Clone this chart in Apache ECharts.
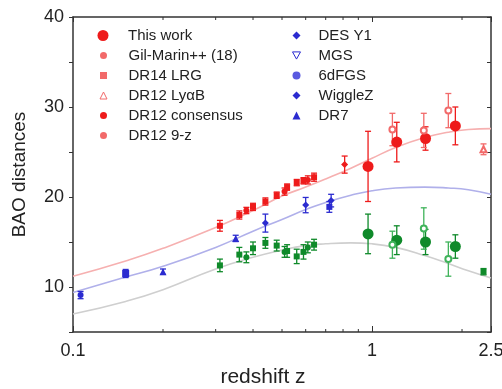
<!DOCTYPE html>
<html>
<head>
<meta charset="utf-8">
<script src="https://cdn.jsdelivr.net/npm/echarts@6/dist/echarts.min.js"></script>
<style>html,body{margin:0;padding:0;background:#fff}#c{width:502px;height:389px}</style>
</head>
<body>
<div id="c"></div>
<script>
// ---- data ----
const curveZ     = [0.1, 0.15, 0.2, 0.3, 0.4, 0.5, 0.6, 0.7, 0.85, 1.0, 1.2, 1.5, 1.8, 2.1, 2.5];
const curveDM    = [11.2, 12.9, 14.3, 16.6, 18.5, 20.1, 21.1, 22.0, 23.2, 24.3, 25.5, 26.6, 27.2, 27.5, 27.6];
const curveDV    = [9.4, 11.1, 12.3, 14.4, 16.2, 17.5, 18.6, 19.4, 20.2, 20.7, 21.0, 21.1, 21.0, 20.8, 20.3];
const curveDH    = [7.0, 8.4, 9.7, 12.0, 13.3, 14.1, 14.6, 14.8, 14.9, 14.8, 14.4, 13.5, 12.6, 11.8, 11.0];

const thisWorkZ      = [0.97, 1.21, 1.51, 1.90];
const thisWorkDM     = [23.4, 26.1, 26.5, 27.9];
const thisWorkDMErr  = [3.9, 2.2, 1.3, 2.1];
const thisWorkDH     = [15.9, 15.2, 15.0, 14.5];
const thisWorkDHErr  = [2.2, 1.6, 1.4, 1.3];

const gilMarinZ      = [1.17, 1.49, 1.80];
const gilMarinDM     = [27.5, 27.4, 29.6];
const gilMarinDMErr  = [1.8, 1.9, 1.9];
const gilMarinDH     = [14.7, 16.5, 13.1];
const gilMarinDHErr  = [1.5, 2.3, 1.9];

const lyaZ     = [2.36];
const lyaDM    = [25.3];
const lyaDMErr = [0.6];
const lyaDH    = [11.7];
const lyaDHErr = [0.35];

const consZ     = [0.38, 0.51, 0.61];
const consDM    = [18.5, 20.6, 21.9];
const consDMErr = [0.35, 0.4, 0.45];
const consDH    = [13.3, 13.9, 14.4];
const consDHErr = [0.6, 0.6, 0.6];

const nineZ     = [0.31, 0.36, 0.40, 0.44, 0.48, 0.52, 0.56, 0.59, 0.64];
const nineDM    = [16.8, 18.0, 18.9, 19.5, 20.2, 21.1, 21.6, 21.8, 22.2];
const nineDMErr = [0.6, 0.45, 0.4, 0.4, 0.35, 0.35, 0.35, 0.35, 0.45];
const nineDH    = [12.4, 13.6, 14.3, 14.9, 14.6, 14.0, 13.4, 13.9, 14.7];
const nineDHErr = [0.7, 0.8, 0.7, 0.6, 0.6, 0.7, 0.8, 0.8, 0.6];

const desZ = [0.81], desDM = [23.6], desDMErr = [0.95];
const lrgZ = [0.72], lrgDV = [18.9], lrgDVErr = [0.6];
const wigZ = [0.44, 0.60, 0.73], wigDV = [17.1, 19.1, 19.6], wigDVErr = [1.0, 0.85, 0.7];
const dr7Z = [0.2, 0.35], dr7DV = [11.7, 15.4], dr7DVErr = [0.3, 0.35];
const mgsZ = [0.15], mgsDV = [11.5], mgsDVErr = [0.45];
const sixZ = [0.106], sixDV = [9.1], sixDVErr = [0.4];

const xLabelValues = [0.1, 1, 2.5];
const xMinorTicks  = [0.2, 0.3, 0.4, 0.5, 0.6, 0.7, 0.8, 0.9, 2];
const yTickLabels  = [10, 20, 30, 40];

// ---- styling ----
const RED = '#ee1b1b', LRED = '#f26a6a', GREEN = '#0f8a2a', LGREEN = '#3fb35a', BLUE = '#2b2bd0';

function pts(z, v, e) { return z.map((zz, i) => [zz, v[i], v[i] - e[i], v[i] + e[i]]); }
function line(z, v) { return z.map((zz, i) => [zz, v[i]]); }

function errSeries(name, data, color) {
  return {
    type: 'custom', name: name, data: data, z: 3, silent: true,
    encode: { x: 0, y: 1 },
    renderItem: function (params, api) {
      const x = api.value(0);
      const lo = api.coord([x, api.value(2)]);
      const hi = api.coord([x, api.value(3)]);
      const w = 3;
      const st = { stroke: color, lineWidth: 1.3 };
      return { type: 'group', children: [
        { type: 'line', shape: { x1: lo[0], y1: lo[1], x2: hi[0], y2: hi[1] }, style: st },
        { type: 'line', shape: { x1: lo[0] - w, y1: lo[1], x2: lo[0] + w, y2: lo[1] }, style: st },
        { type: 'line', shape: { x1: hi[0] - w, y1: hi[1], x2: hi[0] + w, y2: hi[1] }, style: st }
      ]};
    }
  };
}
function scat(name, data, symbol, size, color) {
  return { type: 'scatter', name: name, data: data, symbol: symbol, symbolSize: size, z: 4,
    encode: { x: 0, y: 1 }, itemStyle: { color: color, opacity: 1 } };
}
function both(name, data, symbol, size, color) {
  return [errSeries(name, data, color), scat(name, data, symbol, size, color)];
}
function curve(data, color) {
  return { type: 'line', data: data, smooth: true, showSymbol: false, symbol: 'none', z: 1,
    lineStyle: { color: color, width: 1.6 }, silent: true };
}
// minor ticks of the log x axis (drawn through the axis scale)
const minorTickSeries = {
  type: 'custom', silent: true, z: 5,
  data: xMinorTicks.map(v => [v, 5]), encode: { x: 0, y: 1 },
  renderItem: function (params, api) {
    const x = api.coord([api.value(0), 5])[0];
    const cs = params.coordSys;
    const st = { stroke: '#333', lineWidth: 1 };
    const b = cs.y + cs.height;
    return { type: 'group', children: [
      { type: 'line', shape: { x1: x, y1: b, x2: x, y2: b - 3 }, style: st },
      { type: 'line', shape: { x1: x, y1: cs.y, x2: x, y2: cs.y + 3 }, style: st }
    ]};
  }
};

const series = [].concat(
  curve(line(curveZ, curveDM), '#f6b0b0'),
  curve(line(curveZ, curveDV), '#b0b0ea'),
  curve(line(curveZ, curveDH), '#cfcfcf'),
  both('This work', pts(thisWorkZ, thisWorkDM, thisWorkDMErr), 'circle', 11, RED),
  both('This work', pts(thisWorkZ, thisWorkDH, thisWorkDHErr), 'circle', 11, GREEN),
  both('Gil-Marin++ (18)', pts(gilMarinZ, gilMarinDM, gilMarinDMErr), 'emptyCircle', 6, LRED),
  both('Gil-Marin++ (18)', pts(gilMarinZ, gilMarinDH, gilMarinDHErr), 'emptyCircle', 6, LGREEN),
  both('DR12 LyαB', pts(lyaZ, lyaDM, lyaDMErr), 'emptyTriangle', 6, LRED),
  both('DR12 LyαB', pts(lyaZ, lyaDH, lyaDHErr), 'rect', 6, GREEN),
  both('DR12 consensus', pts(consZ, consDM, consDMErr), 'circle', 6, RED),
  both('DR12 consensus', pts(consZ, consDH, consDHErr), 'circle', 6, GREEN),
  both('DR12 9-z', pts(nineZ, nineDM, nineDMErr), 'rect', 6, RED),
  both('DR12 9-z', pts(nineZ, nineDH, nineDHErr), 'rect', 6, GREEN),
  both('DES Y1', pts(desZ, desDM, desDMErr), 'diamond', 7, RED),
  both('DR14 LRG', pts(lrgZ, lrgDV, lrgDVErr), 'rect', 6, BLUE),
  both('WiggleZ', pts(wigZ, wigDV, wigDVErr), 'diamond', 7, BLUE),
  both('DR7', pts(dr7Z, dr7DV, dr7DVErr), 'triangle', 7, BLUE),
  both('MGS', pts(mgsZ, mgsDV, mgsDVErr), 'rect', 7, BLUE),
  both('6dFGS', pts(sixZ, sixDV, sixDVErr), 'circle', 6, BLUE),
  [minorTickSeries]
);

const FONT = 'Liberation Sans, Arial, sans-serif';
function legText(pad) { return { fontFamily: FONT, fontSize: 15, color: '#222', lineHeight: 15, padding: [0, 0, 0, pad] }; }
const downTri = 'path://M0,0 L10,0 L5,9 Z';

const option = {
  animation: false,
  backgroundColor: '#fff',
  grid: { left: 73, right: 11, top: 17, bottom: 57, outerBoundsMode: 'none', containLabel: false },
  legend: [
    { left: 92.5, top: 23, orient: 'vertical', itemWidth: 11, itemHeight: 11, itemGap: 5, textStyle: legText(14.5), selectedMode: false,
      data: [{ name: 'This work', icon: 'circle', itemStyle: { color: RED } }] },
    { left: 94.5, top: 43, orient: 'vertical', itemWidth: 7, itemHeight: 7, itemGap: 5, textStyle: legText(16.5), selectedMode: false,
      data: [
        { name: 'Gil-Marin++ (18)', icon: 'circle', itemStyle: { color: LRED } },
        { name: 'DR14 LRG', icon: 'rect', itemStyle: { color: LRED } },
        { name: 'DR12 LyαB', icon: 'triangle', itemStyle: { color: '#fff', borderColor: LRED, borderWidth: 1 } },
        { name: 'DR12 consensus', icon: 'circle', itemStyle: { color: RED } },
        { name: 'DR12 9-z', icon: 'circle', itemStyle: { color: LRED } }
      ] },
    { left: 287, top: 23, orient: 'vertical', itemWidth: 8, itemHeight: 8, itemGap: 5, textStyle: legText(13), selectedMode: false,
      data: [
        { name: 'DES Y1', icon: 'diamond', itemStyle: { color: BLUE } },
        { name: 'MGS', icon: downTri, itemStyle: { color: '#fff', borderColor: BLUE, borderWidth: 1 } },
        { name: '6dFGS', icon: 'circle', itemStyle: { color: '#5a5ae0' } },
        { name: 'WiggleZ', icon: 'diamond', itemStyle: { color: BLUE } },
        { name: 'DR7', icon: 'triangle', itemStyle: { color: BLUE } }
      ] }
  ],
  xAxis: [
    { type: 'log', logBase: 10, min: 0.1, max: 2.5, position: 'bottom',
      name: 'redshift z', nameLocation: 'middle', nameGap: 35, nameMoveOverlap: false,
      nameTextStyle: { fontFamily: FONT, fontSize: 21, color: '#222', padding: [0, 38, 0, 0] },
      axisLine: { show: true, lineStyle: { color: '#333', width: 1.5 } },
      axisTick: { show: true, inside: true, length: 6, lineStyle: { color: '#333' } },
      axisLabel: { customValues: xLabelValues, fontFamily: FONT, fontSize: 18, color: '#222', margin: 10,
        formatter: v => String(Math.round(v * 10) / 10) },
      splitLine: { show: false } },
    { type: 'log', logBase: 10, min: 0.1, max: 2.5, position: 'top',
      axisLine: { show: true, lineStyle: { color: '#333', width: 1.5 } },
      axisTick: { show: true, inside: true, length: 5, lineStyle: { color: '#333' } },
      axisLabel: { show: false }, splitLine: { show: false } }
  ],
  yAxis: [
    { type: 'value', min: 5, max: 40, interval: 5, position: 'left',
      name: 'BAO distances', nameLocation: 'middle', nameGap: 44, nameMoveOverlap: false,
      nameTextStyle: { fontFamily: FONT, fontSize: 19, color: '#222' },
      axisLine: { show: true, lineStyle: { color: '#333', width: 1.5 } },
      axisTick: { show: true, inside: false, length: 4, lineStyle: { color: '#333' } },
      axisLabel: { fontFamily: FONT, fontSize: 18, color: '#222', margin: 9,
        formatter: v => (yTickLabels.indexOf(v) >= 0 ? String(v) : '') },
      splitLine: { show: false } },
    { type: 'value', min: 5, max: 40, interval: 5, position: 'right',
      axisLine: { show: true, lineStyle: { color: '#333', width: 1.5 } },
      axisTick: { show: true, inside: true, length: 4, lineStyle: { color: '#333' } },
      axisLabel: { show: false }, splitLine: { show: false } }
  ],
  series: series
};

const chart = echarts.init(document.getElementById('c'), null, { renderer: 'canvas' });
chart.setOption(option);
</script>
</body>
</html>
